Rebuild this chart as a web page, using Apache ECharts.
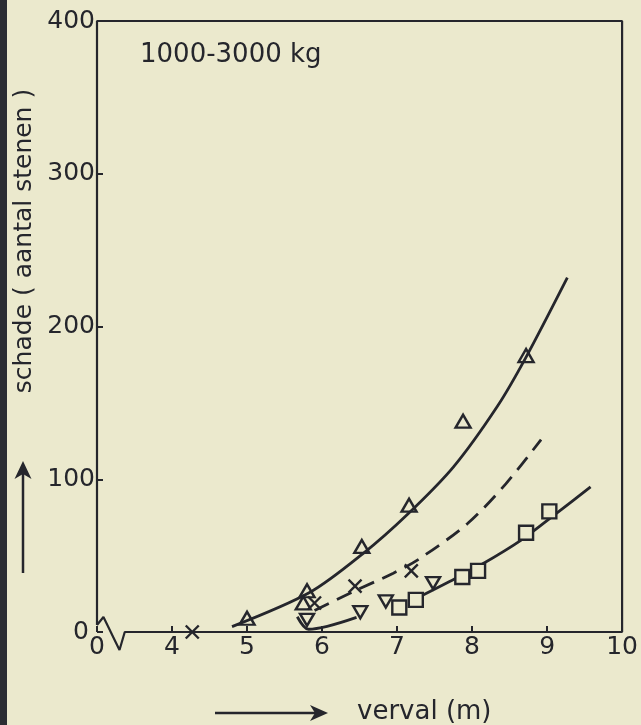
<!DOCTYPE html>
<html>
<head>
<meta charset="utf-8">
<script src="https://cdn.jsdelivr.net/npm/echarts@6/dist/echarts.min.js"></script>
<style>
html,body{margin:0;padding:0;background:#ebe9cd;}
#chart{width:641px;height:725px;}
</style>
</head>
<body>
<div id="chart"></div>
<script>
var ink = '#25262c';
var paper = '#ebe9cd';
var font = 'DejaVu Sans';

var triangleUp = [[5.0,9],[5.75,19],[5.8,27],[6.53,56],[7.16,83],[7.88,138],[8.72,181]];
var triangleDown = [[5.8,8],[6.51,13],[6.85,20],[7.48,32]];
var squares = [[7.03,16],[7.25,21],[7.87,36],[8.08,40],[8.72,65],[9.03,79]];
var crosses = [[4.27,0],[5.9,19],[6.44,30],[7.19,40]];

// getekende krommen
var curveUpper = [[4.8,3.5],[5.84,26],[6.55,51.5],[7.13,76.6],[7.75,108],[8.34,148],[8.72,180],[9.27,232]];
var curveDashed = [[5.9,14],[6.44,27],[6.95,38.5],[7.3,48],[7.94,71],[8.45,97],[8.92,126]];
var curveLower = [[5.67,10],[5.82,1.8],[6.46,9.6],[6.9,'-'],[7.3,23],[7.7,33],[8.12,44],[8.65,60],[9.12,77.5],[9.58,95]];

// as-labels (x-as is onderbroken: 0 staat op de plaats van 3)
var xTickValues = [3,4,5,6,7,8,9,10];
var xTickLabels = ['0','4','5','6','7','8','9','10'];
var yTickValues = [0,100,200,300,400];

var chart = echarts.init(document.getElementById('chart'));

var hollow = {color: 'transparent', borderColor: ink, borderWidth: 2.4, opacity: 1};
var masked = {color: paper, borderColor: ink, borderWidth: 2.4, opacity: 1};

var option = {
	backgroundColor: paper,
	animation: false,
	textStyle: {fontFamily: font},
	grid: {left: 97, right: 18, top: 21, bottom: 93},
	xAxis: {
		type: 'value',
		min: 3,
		max: 10,
		interval: 1,
		axisLine: {show: false},
		axisTick: {show: true, inside: true, length: 6, lineStyle: {color: ink, width: 2}},
		splitLine: {show: false},
		axisLabel: {
			color: ink,
			fontSize: 25,
			margin: 3,
			formatter: function (v) {
				var i = xTickValues.indexOf(v);
				return i < 0 ? '' : xTickLabels[i];
			}
		}
	},
	yAxis: {
		type: 'value',
		min: 0,
		max: 400,
		interval: 100,
		axisLine: {show: false},
		axisTick: {show: true, inside: true, length: 6, lineStyle: {color: ink, width: 2}},
		splitLine: {show: false},
		axisLabel: {
			color: ink,
			fontSize: 25,
			margin: 2,
			formatter: function (v) {
				if (yTickValues.indexOf(v) < 0) return '';
				return v === 0 ? '{z|0}' : String(v);
			},
			rich: {z: {fontSize: 25, color: ink, padding: [0, 6, 0, 0]}}
		}
	},
	series: [
		{
			// kader met onderbreking van de x-as
			type: 'line',
			silent: true,
			clip: false,
			symbol: 'none',
			lineStyle: {color: ink, width: 2.2},
			data: [[3,4.6],[3,400],[10,400],[10,0],[3.37,0],[3.3,-11.8],[3.086,9.8],[3,4.6]],
			z: 1
		},
		{
			type: 'line', smooth: 0.3, symbol: 'none',
			lineStyle: {color: ink, width: 2.8},
			data: curveUpper
		},
		{
			type: 'line', smooth: 0.3, symbol: 'none',
			lineStyle: {color: ink, width: 2.8, type: [16, 9]},
			data: curveDashed
		},
		{
			type: 'line', smooth: 0.3, symbol: 'none',
			lineStyle: {color: ink, width: 2.8},
			data: curveLower
		},
		{
			type: 'scatter', symbol: 'triangle', symbolSize: [15, 13],
			itemStyle: hollow, data: triangleUp, z: 5
		},
		{
			type: 'scatter', symbol: 'triangle', symbolRotate: 180, symbolSize: [14, 12],
			itemStyle: masked, data: triangleDown, z: 5
		},
		{
			type: 'scatter', symbol: 'rect', symbolSize: 14,
			itemStyle: masked, data: squares, z: 5
		},
		{
			type: 'scatter', symbol: 'path://M0,0L10,10M10,0L0,10', symbolSize: 13,
			itemStyle: {color: 'none', borderColor: ink, borderWidth: 2.4, opacity: 1}, data: crosses, z: 5
		}
	],
	graphic: [
		{type: 'rect', left: 0, top: 0, shape: {width: 7, height: 725}, style: {fill: '#2b2d33'}},
		{type: 'text', x: 140, y: 55, style: {text: '1000-3000 kg', font: '26px "DejaVu Sans"', fill: ink, verticalAlign: 'middle'}},
		{type: 'text', x: 24, y: 241, rotation: Math.PI / 2, style: {text: 'schade ( aantal stenen )', font: '25px "DejaVu Sans"', fill: ink, align: 'center', verticalAlign: 'middle'}},
		{type: 'line', shape: {x1: 23, y1: 573, x2: 23, y2: 472}, style: {stroke: ink, lineWidth: 2.5}},
		{type: 'polygon', shape: {points: [[23, 461], [14.5, 479], [23, 474], [31.5, 479]]}, style: {fill: ink}},
		{type: 'line', shape: {x1: 215, y1: 713, x2: 318, y2: 713}, style: {stroke: ink, lineWidth: 2.5}},
		{type: 'polygon', shape: {points: [[328, 713], [310, 705], [315, 713], [310, 721]]}, style: {fill: ink}},
		{type: 'text', x: 357, y: 712, style: {text: 'verval (m)', font: '26px "DejaVu Sans"', fill: ink, verticalAlign: 'middle'}}
	]
};

chart.setOption(option);
</script>
</body>
</html>
